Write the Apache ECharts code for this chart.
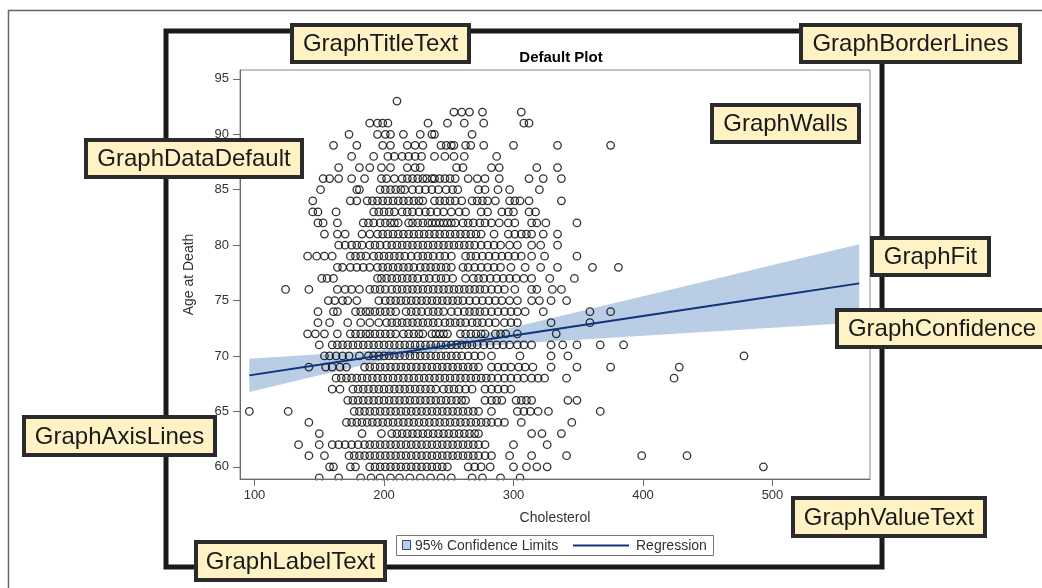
<!DOCTYPE html>
<html><head><meta charset="utf-8">
<script src="https://cdn.jsdelivr.net/npm/echarts@6/dist/echarts.min.js"></script>
<style>html,body{margin:0;padding:0;background:#fff}#c{width:1042px;height:588px}</style>
</head><body><div id="c"></div><script>
// ---- Data: cholesterol values observed at each age at death ----
const chol59 = [150, 165, 182, 190, 197, 205, 212, 220, 228, 236, 244, 252, 268, 276, 290, 305];
const chol60 = [158, 161, 174, 178, 189, 193, 197, 201, 205, 209, 213, 217, 221, 225, 229, 233, 237, 241, 245, 249, 265, 270, 275, 282, 300, 310, 318, 326, 493];
const chol61 = [142, 154, 173, 177, 181, 185, 189, 193, 197, 201, 205, 209, 213, 217, 221, 225, 229, 233, 237, 241, 245, 249, 253, 257, 261, 265, 269, 273, 278, 283, 297, 314, 341, 399, 434];
const chol62 = [134, 150, 160, 165, 170, 175, 180, 185, 189, 193, 197, 201, 205, 209, 213, 217, 221, 225, 229, 233, 237, 241, 245, 249, 253, 257, 261, 265, 269, 273, 278, 300, 326];
const chol63 = [150, 183, 198, 206, 210, 214, 218, 222, 226, 230, 234, 238, 242, 246, 250, 254, 258, 262, 266, 270, 273, 314, 322, 337];
const chol64 = [142, 171, 175, 179, 183, 187, 191, 195, 199, 203, 207, 211, 215, 219, 223, 227, 231, 235, 239, 243, 247, 251, 255, 259, 263, 267, 271, 275, 279, 283, 288, 293, 306, 345];
const chol65 = [96, 126, 177, 181, 185, 189, 193, 197, 201, 205, 209, 213, 217, 221, 225, 229, 233, 237, 241, 245, 249, 253, 257, 261, 265, 269, 273, 283, 303, 308, 313, 319, 327, 367];
const chol66 = [172, 176, 180, 184, 188, 192, 196, 200, 204, 208, 212, 216, 220, 224, 228, 232, 236, 240, 244, 248, 252, 256, 260, 263, 278, 283, 287, 291, 302, 306, 310, 314, 342, 349];
const chol67 = [160, 166, 176, 180, 184, 188, 192, 196, 200, 204, 208, 212, 216, 220, 224, 228, 232, 236, 240, 246, 250, 254, 258, 263, 268, 278, 283, 288, 293, 298];
const chol68 = [163, 167, 171, 175, 179, 183, 187, 191, 195, 199, 203, 207, 211, 215, 219, 223, 227, 231, 235, 239, 243, 247, 251, 255, 259, 263, 267, 271, 275, 279, 283, 288, 293, 298, 303, 308, 314, 319, 324, 341, 424];
const chol69 = [142, 155, 160, 166, 171, 185, 189, 193, 197, 201, 205, 209, 213, 217, 221, 225, 229, 233, 237, 241, 245, 249, 253, 257, 261, 265, 269, 273, 283, 288, 293, 298, 304, 309, 315, 329, 349, 375, 428];
const chol70 = [154, 158, 163, 168, 173, 181, 188, 192, 196, 200, 204, 208, 212, 216, 220, 224, 228, 232, 236, 240, 244, 248, 252, 256, 260, 265, 270, 275, 283, 305, 329, 342, 478];
const chol71 = [150, 160, 164, 168, 172, 176, 180, 184, 188, 192, 196, 200, 204, 208, 212, 216, 220, 224, 228, 232, 236, 240, 244, 248, 252, 256, 260, 264, 268, 272, 277, 282, 287, 292, 297, 303, 308, 314, 329, 338, 349, 367, 385];
const chol72 = [141, 147, 154, 164, 174, 178, 182, 186, 189, 193, 197, 201, 205, 209, 215, 219, 223, 227, 230, 237, 240, 243, 246, 249, 259, 263, 267, 271, 275, 278, 286, 290, 294, 303, 333];
const chol73 = [149, 158, 172, 182, 189, 196, 202, 206, 210, 214, 218, 222, 226, 230, 234, 238, 242, 247, 251, 255, 259, 263, 268, 272, 276, 281, 286, 293, 298, 303, 329, 359];
const chol74 = [149, 161, 164, 178, 182, 186, 189, 193, 197, 201, 205, 209, 217, 221, 225, 229, 234, 238, 242, 246, 252, 257, 262, 266, 270, 274, 278, 283, 288, 293, 298, 303, 309, 323, 359, 375];
const chol75 = [157, 162, 168, 172, 179, 196, 201, 205, 209, 213, 217, 221, 225, 229, 233, 237, 241, 245, 249, 253, 257, 261, 266, 271, 276, 281, 286, 291, 297, 303, 314, 320, 329, 341];
const chol76 = [124, 142, 164, 170, 175, 181, 189, 193, 197, 201, 206, 210, 214, 218, 222, 226, 230, 234, 238, 242, 246, 250, 254, 258, 262, 266, 270, 274, 278, 283, 288, 293, 301, 314, 318, 330, 337];
const chol77 = [152, 156, 161, 195, 198, 202, 206, 210, 214, 218, 222, 226, 231, 235, 240, 244, 248, 253, 263, 269, 273, 277, 282, 287, 292, 297, 302, 308, 314, 328, 347];
const chol78 = [164, 168, 174, 179, 184, 189, 195, 199, 203, 207, 211, 215, 219, 223, 228, 232, 236, 240, 244, 248, 252, 261, 265, 270, 275, 280, 285, 290, 298, 309, 321, 334, 361, 381];
const chol79 = [141, 148, 154, 160, 174, 178, 182, 186, 192, 196, 200, 204, 208, 212, 216, 221, 226, 230, 234, 238, 243, 247, 252, 263, 267, 271, 276, 281, 286, 291, 296, 301, 306, 314, 324, 349];
const chol80 = [165, 170, 175, 179, 183, 189, 193, 197, 202, 206, 210, 214, 218, 222, 226, 230, 234, 238, 242, 246, 250, 254, 258, 262, 266, 270, 275, 280, 285, 290, 297, 303, 314, 321, 334];
const chol81 = [154, 164, 170, 183, 189, 195, 199, 203, 207, 211, 215, 219, 223, 227, 231, 235, 239, 243, 247, 251, 255, 259, 263, 267, 271, 275, 285, 296, 301, 306, 310, 314, 323, 334];
const chol82 = [149, 153, 164, 184, 188, 192, 197, 201, 205, 208, 211, 219, 222, 226, 230, 234, 237, 240, 243, 246, 249, 252, 255, 261, 265, 269, 274, 278, 283, 289, 296, 301, 314, 318, 325, 349];
const chol83 = [145, 149, 163, 192, 196, 200, 204, 208, 214, 218, 222, 227, 232, 236, 241, 246, 252, 258, 263, 275, 280, 291, 296, 300, 312, 317];
const chol84 = [145, 174, 179, 187, 191, 195, 199, 203, 207, 211, 215, 219, 223, 227, 230, 239, 243, 247, 251, 255, 260, 268, 272, 276, 280, 286, 297, 301, 305, 312, 337];
const chol85 = [151, 179, 181, 197, 201, 205, 209, 213, 216, 222, 227, 232, 237, 242, 248, 253, 257, 273, 278, 288, 297, 320];
const chol86 = [153, 158, 165, 175, 185, 198, 202, 208, 214, 218, 222, 226, 230, 233, 237, 239, 243, 247, 251, 255, 265, 272, 278, 289, 312, 323, 337];
const chol87 = [165, 181, 189, 198, 205, 218, 224, 228, 256, 261, 283, 289, 318, 334];
const chol88 = [175, 192, 203, 208, 214, 219, 224, 229, 239, 247, 254, 262, 287];
const chol89 = [161, 179, 199, 205, 218, 224, 230, 244, 248, 252, 254, 263, 267, 277, 300, 334, 375];
const chol90 = [173, 195, 201, 205, 215, 228, 237, 239, 268];
const chol91 = [189, 195, 199, 203, 234, 249, 262, 277, 308, 312];
const chol92 = [254, 260, 266, 276, 306];
const chol93 = [210];

const ages = [59,60,61,62,63,64,65,66,67,68,69,70,71,72,73,74,75,76,77,78,79,80,81,82,83,84,85,86,87,88,89,90,91,92,93];
const cholRows = [chol59,chol60,chol61,chol62,chol63,chol64,chol65,chol66,chol67,chol68,chol69,chol70,chol71,chol72,chol73,chol74,chol75,chol76,chol77,chol78,chol79,chol80,chol81,chol82,chol83,chol84,chol85,chol86,chol87,chol88,chol89,chol90,chol91,chol92,chol93];

// ---- Regression fit and 95% confidence limits ----
const fitChol  = [96, 150, 200, 235, 250, 300, 350, 400, 450, 500, 567];
const fitAge   = [68.25, 69.20, 70.09, 70.70, 70.97, 71.85, 72.73, 73.61, 74.49, 75.37, 76.55];
const ciUpper  = [69.75, 70.15, 70.57, 71.04, 71.31, 72.60, 73.99, 75.39, 76.79, 78.20, 80.08];
const ciLower  = [66.75, 68.25, 69.61, 70.36, 70.63, 71.10, 71.47, 71.83, 72.19, 72.54, 73.02];

const xTicks = [100, 200, 300, 400, 500];
const yTicks = [60, 65, 70, 75, 80, 85, 90, 95];

const scatterData = [];
ages.forEach((a, i) => cholRows[i].forEach(c => scatterData.push([c, a])));
const fitData = fitChol.map((c, i) => [c, fitAge[i]]);

const FONT = 'Liberation Sans, Arial, sans-serif';
const chart = echarts.init(document.getElementById('c'), null, {renderer: 'canvas'});

function note(x, y, w, h, text) {
  return [
    {type: 'rect', z: 100, shape: {x: x, y: y, width: w, height: h},
     style: {fill: '#FFF2C4', stroke: '#2b2b2b', lineWidth: 4}},
    {type: 'text', z: 101, x: x + w / 2, y: y + h / 2 + 1,
     style: {text: text, font: '24px ' + FONT, fill: '#1a1a1a', align: 'center', verticalAlign: 'middle'}}
  ];
}

const graphics = [].concat(
  [
    {type: 'rect', z: 0, silent: true, shape: {x: 8.5, y: 10.5, width: 1100, height: 700},
     style: {fill: 'none', stroke: '#666', lineWidth: 1.5}},
    {type: 'rect', z: 1, silent: true, shape: {x: 166, y: 31, width: 716, height: 536},
     style: {fill: 'none', stroke: '#1a1a1a', lineWidth: 5}},
    {type: 'rect', z: 5, silent: true, shape: {x: 236, y: 480.5, width: 640, height: 7},
     style: {fill: '#fff'}},
    // legend
    {type: 'rect', z: 20, shape: {x: 396.5, y: 535.5, width: 317, height: 20},
     style: {fill: '#fff', stroke: '#777', lineWidth: 1}},
    {type: 'rect', z: 21, shape: {x: 402.5, y: 540.5, width: 8, height: 9},
     style: {fill: '#B9CDE5', stroke: '#2a4a80', lineWidth: 1}},
    {type: 'text', z: 21, x: 415, y: 546,
     style: {text: '95% Confidence Limits', font: '14px ' + FONT, fill: '#333', verticalAlign: 'middle'}},
    {type: 'line', z: 21, shape: {x1: 573, y1: 545.5, x2: 629, y2: 545.5},
     style: {stroke: '#12347a', lineWidth: 2}},
    {type: 'text', z: 21, x: 636, y: 546,
     style: {text: 'Regression', font: '14px ' + FONT, fill: '#333', verticalAlign: 'middle'}}
  ],
  note(292, 25, 177, 37, 'GraphTitleText'),
  note(801, 25, 219, 37, 'GraphBorderLines'),
  note(712, 105, 147, 37, 'GraphWalls'),
  note(86, 140, 216, 37, 'GraphDataDefault'),
  note(872, 238, 117, 37, 'GraphFit'),
  note(837, 310, 210, 37, 'GraphConfidence'),
  note(24, 417, 191, 38, 'GraphAxisLines'),
  note(793, 498, 192, 38, 'GraphValueText'),
  note(196, 542, 189, 38, 'GraphLabelText')
);

chart.setOption({
  animation: false,
  backgroundColor: '#fff',
  title: {
    text: 'Default Plot', left: 556, top: 45, textAlign: 'center',
    textStyle: {fontFamily: FONT, fontSize: 15, fontWeight: 'bold', color: '#000'}
  },
  grid: {left: 240, right: 172, top: 70, bottom: 109, show: true, z: 10,
         borderColor: '#8a8a8a', borderWidth: 1, backgroundColor: 'transparent', containLabel: false},
  xAxis: {
    type: 'value', min: 88.8, max: 575.3, z: 10,
    name: 'Cholesterol', nameLocation: 'middle', nameGap: 32,
    nameTextStyle: {fontFamily: FONT, fontSize: 14, color: '#333'},
    axisLine: {show: true, onZero: false, lineStyle: {color: '#6a6a6a', width: 1}},
    axisTick: {show: true, length: 7, customValues: xTicks, lineStyle: {color: '#6a6a6a'}},
    axisLabel: {customValues: xTicks, margin: 10, fontFamily: FONT, fontSize: 13, color: '#333'},
    splitLine: {show: false}
  },
  yAxis: {
    type: 'value', min: 58.9, max: 95.8, z: 10,
    name: 'Age at Death', nameLocation: 'middle', nameGap: 44,
    nameTextStyle: {fontFamily: FONT, fontSize: 14, color: '#333'},
    axisLine: {show: true, onZero: false, lineStyle: {color: '#6a6a6a', width: 1}},
    axisTick: {show: true, length: 7, customValues: yTicks, lineStyle: {color: '#6a6a6a'}},
    axisLabel: {customValues: yTicks, margin: 11, fontFamily: FONT, fontSize: 13, color: '#333'},
    splitLine: {show: false}
  },
  series: [
    {type: 'custom', name: '95% Confidence Limits', z: 1, silent: true, clip: true,
     data: [0],
     renderItem: function (params, api) {
       const pts = [];
       for (let i = 0; i < fitChol.length; i++) pts.push(api.coord([fitChol[i], ciUpper[i]]));
       for (let i = fitChol.length - 1; i >= 0; i--) pts.push(api.coord([fitChol[i], ciLower[i]]));
       return {type: 'polygon', shape: {points: pts}, style: {fill: '#B9CDE5', stroke: 'none'}};
     }},
    {type: 'scatter', name: 'Age at Death', data: scatterData, symbol: 'circle', symbolSize: 7.5, z: 2,
     itemStyle: {color: 'rgba(0,0,0,0)', borderColor: '#000', borderWidth: 1.3}, clip: true},
    {type: 'line', name: 'Regression', data: fitData, symbol: 'none', z: 3,
     lineStyle: {color: '#12347a', width: 2}}
  ],
  graphic: graphics
});
</script></body></html>
